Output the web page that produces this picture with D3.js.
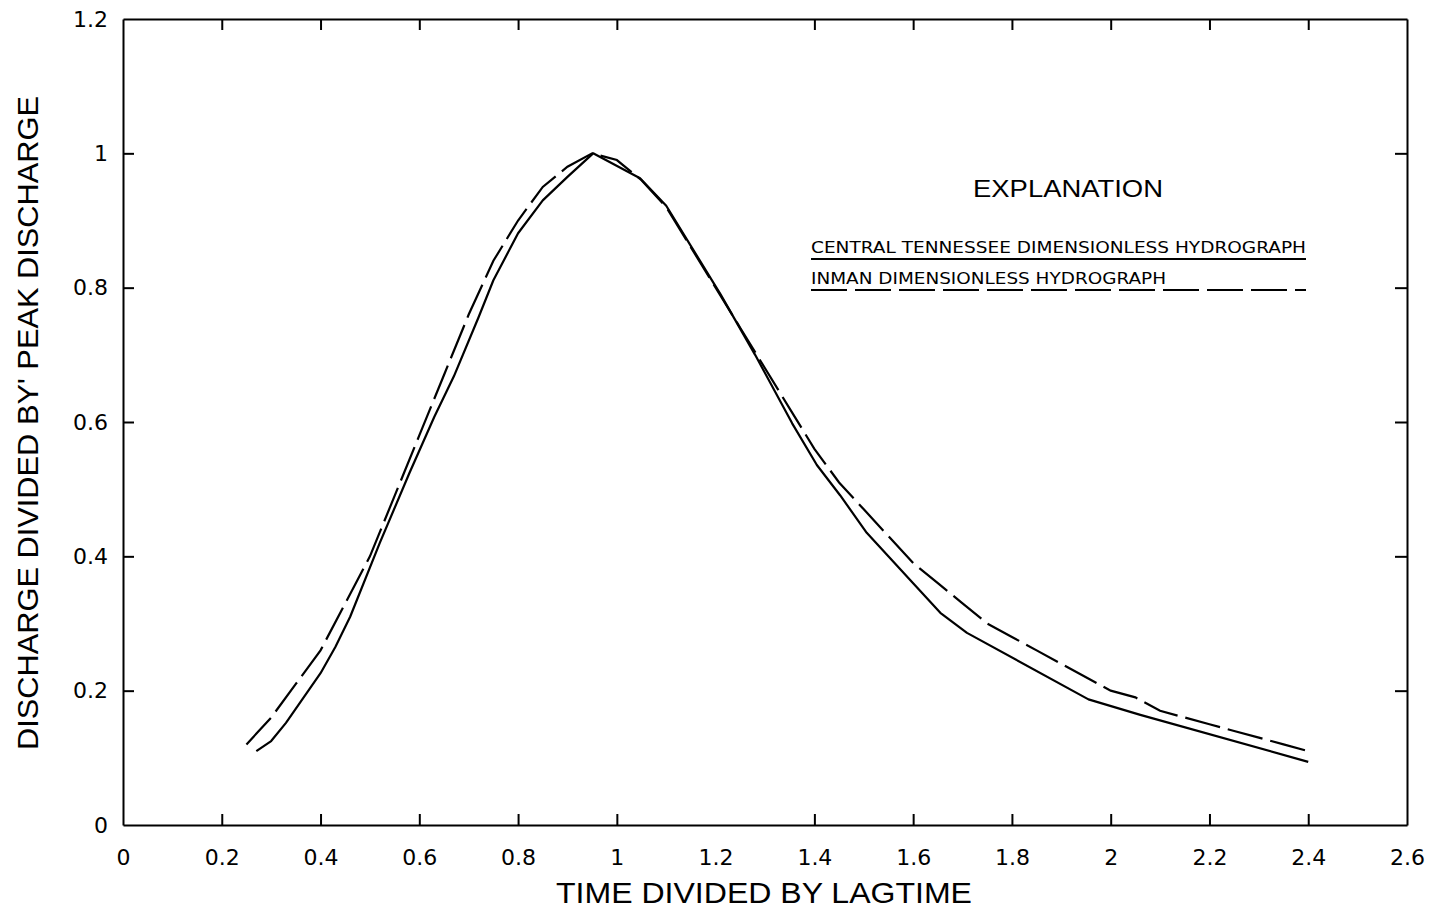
<!DOCTYPE html>
<html>
<head>
<meta charset="utf-8">
<script src="https://cdn.jsdelivr.net/npm/d3@7"></script>
<style>
  body { margin: 0; background: #fff; }
  svg { display: block; }
</style>
</head>
<body>
<svg id="chart" width="1431" height="912"></svg>
<script>
// Central Tennessee dimensionless hydrograph (solid)
var tnTime = [0.27, 0.30, 0.33, 0.40, 0.43, 0.46, 0.52, 0.58, 0.63, 0.67, 0.72, 0.75, 0.80, 0.85, 0.90, 0.952,
              1.047, 1.10, 1.16, 1.21, 1.28, 1.355, 1.405, 1.452, 1.506, 1.56, 1.60, 1.655, 1.709, 1.955, 2.06, 2.40];
var tnQ    = [0.11, 0.125, 0.152, 0.226, 0.265, 0.31, 0.42, 0.524, 0.607, 0.668, 0.756, 0.811, 0.881, 0.93, 0.965, 1.0,
              0.963, 0.922, 0.85, 0.79, 0.70, 0.598, 0.536, 0.491, 0.435, 0.392, 0.36, 0.316, 0.286, 0.187, 0.164, 0.094];

// Inman dimensionless hydrograph (dashed)
var inTime = [0.25, 0.30, 0.35, 0.40, 0.45, 0.50, 0.55, 0.60, 0.65, 0.70, 0.75, 0.80, 0.85, 0.90, 0.95,
              1.00, 1.05, 1.10, 1.15, 1.20, 1.25, 1.30, 1.35, 1.40, 1.45, 1.50, 1.55, 1.60, 1.65, 1.70,
              1.75, 1.80, 1.85, 1.90, 1.95, 2.00, 2.05, 2.10, 2.15, 2.20, 2.25, 2.30, 2.35, 2.40];
var inQ    = [0.12, 0.16, 0.21, 0.26, 0.33, 0.40, 0.49, 0.58, 0.67, 0.76, 0.84, 0.90, 0.95, 0.98, 1.00,
              0.99, 0.96, 0.92, 0.86, 0.80, 0.74, 0.68, 0.62, 0.56, 0.51, 0.47, 0.43, 0.39, 0.36, 0.33,
              0.30, 0.28, 0.26, 0.24, 0.22, 0.20, 0.19, 0.17, 0.16, 0.15, 0.14, 0.13, 0.12, 0.11];

var xTicks = [0, 0.2, 0.4, 0.6, 0.8, 1, 1.2, 1.4, 1.6, 1.8, 2, 2.2, 2.4, 2.6];
var yTicks = [0, 0.2, 0.4, 0.6, 0.8, 1, 1.2];

var seriesNames = ["CENTRAL TENNESSEE DIMENSIONLESS HYDROGRAPH", "INMAN DIMENSIONLESS HYDROGRAPH"];

var svg = d3.select("#chart");
var plotL = 123, plotR = 1407, plotT = 19, plotB = 825;

var x = d3.scaleLinear().domain([0, 2.6]).range([plotL, plotR]);
var y = d3.scaleLinear().domain([0, 1.2]).range([plotB, plotT]);
var fmt = function (d) { return String(+d.toFixed(1)); };

function styleAxis(g) {
  g.select(".domain").attr("stroke", "#000").attr("stroke-width", 2);
  g.selectAll(".tick line").attr("stroke", "#000").attr("stroke-width", 2);
  g.selectAll(".tick text")
    .attr("fill", "#000")
    .attr("font-family", "DejaVu Sans, sans-serif")
    .attr("font-size", "22px");
}

svg.append("g")
  .attr("transform", "translate(0," + plotB + ")")
  .call(d3.axisBottom(x).tickValues(xTicks).tickFormat(fmt).tickSizeInner(-11).tickSizeOuter(0).tickPadding(24))
  .call(styleAxis);

svg.append("g")
  .attr("transform", "translate(0," + plotT + ")")
  .call(d3.axisTop(x).tickValues(xTicks.slice(1, -1)).tickFormat("").tickSizeInner(-11).tickSizeOuter(0))
  .call(styleAxis);

svg.append("g")
  .attr("transform", "translate(" + plotL + ",0)")
  .call(d3.axisLeft(y).tickValues(yTicks).tickFormat(fmt).tickSizeInner(-11).tickSizeOuter(0).tickPadding(15))
  .call(styleAxis);

svg.append("g")
  .attr("transform", "translate(" + plotR + ",0)")
  .call(d3.axisRight(y).tickValues(yTicks.slice(1, -1)).tickFormat("").tickSizeInner(-12).tickSizeOuter(0))
  .call(styleAxis);

// no tick marks on the frame corners
svg.selectAll(".tick line").filter(function (d) { return d === 0 || d === 1.2 || d === 2.6; }).remove();

var line = d3.line()
  .x(function (d) { return x(d[0]); })
  .y(function (d) { return y(d[1]); });

var tnData = tnTime.map(function (t, i) { return [t, tnQ[i]]; });
var inData = inTime.map(function (t, i) { return [t, inQ[i]]; });

svg.append("path")
  .datum(tnData)
  .attr("d", line)
  .attr("fill", "none")
  .attr("stroke", "#000")
  .attr("stroke-width", 2.2)
  .attr("stroke-linejoin", "round");

svg.append("path")
  .datum(inData)
  .attr("d", line)
  .attr("fill", "none")
  .attr("stroke", "#000")
  .attr("stroke-width", 2.2)
  .attr("stroke-dasharray", "36,8");

// axis titles
svg.append("text")
  .attr("x", 764)
  .attr("y", 903)
  .attr("text-anchor", "middle")
  .attr("font-family", "Liberation Sans, Arial, sans-serif")
  .attr("font-size", "30px")
  .attr("textLength", 416)
  .attr("lengthAdjust", "spacingAndGlyphs")
  .text("TIME DIVIDED BY LAGTIME");

svg.append("text")
  .attr("transform", "translate(38,423) rotate(-90)")
  .attr("text-anchor", "middle")
  .attr("font-family", "Liberation Sans, Arial, sans-serif")
  .attr("font-size", "30px")
  .attr("textLength", 654)
  .attr("lengthAdjust", "spacingAndGlyphs")
  .text("DISCHARGE DIVIDED BY' PEAK DISCHARGE");

// explanation
svg.append("text")
  .attr("x", 1068)
  .attr("y", 197)
  .attr("text-anchor", "middle")
  .attr("font-family", "Liberation Sans, Arial, sans-serif")
  .attr("font-size", "23px")
  .attr("textLength", 190)
  .attr("lengthAdjust", "spacingAndGlyphs")
  .text("EXPLANATION");

var legX0 = 811, legX1 = 1306;
var leg = svg.append("g");
leg.append("text")
  .attr("x", legX0).attr("y", 253)
  .attr("font-family", "DejaVu Sans, sans-serif")
  .attr("font-size", "15px")
  .attr("textLength", legX1 - legX0)
  .attr("lengthAdjust", "spacingAndGlyphs")
  .text(seriesNames[0]);
leg.append("line")
  .attr("x1", legX0).attr("x2", legX1)
  .attr("y1", 259).attr("y2", 259)
  .attr("stroke", "#000").attr("stroke-width", 2);

leg.append("text")
  .attr("x", legX0).attr("y", 284)
  .attr("font-family", "DejaVu Sans, sans-serif")
  .attr("font-size", "15px")
  .attr("textLength", 355)
  .attr("lengthAdjust", "spacingAndGlyphs")
  .text(seriesNames[1]);
leg.append("line")
  .attr("x1", legX0).attr("x2", legX1)
  .attr("y1", 290).attr("y2", 290)
  .attr("stroke", "#000").attr("stroke-width", 2)
  .attr("stroke-dasharray", "36,8");
</script>
</body>
</html>
